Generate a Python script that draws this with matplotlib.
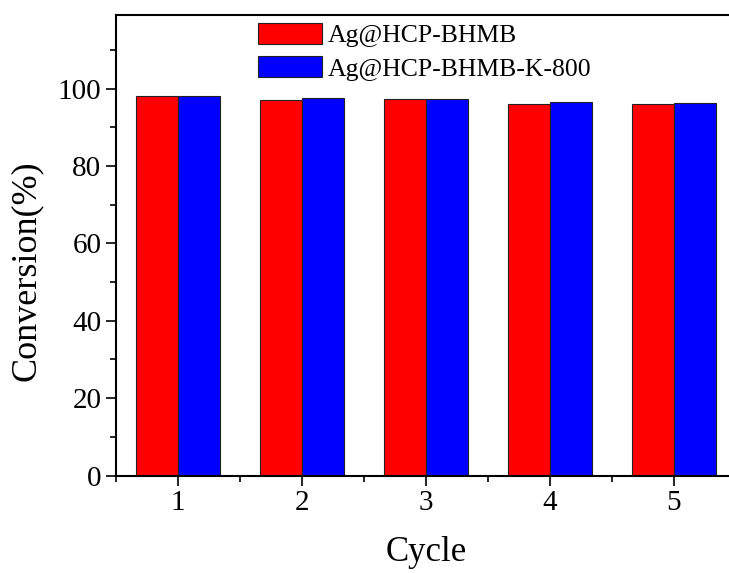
import matplotlib
matplotlib.use("Agg")
import matplotlib.pyplot as plt
import numpy as np
from matplotlib.ticker import MultipleLocator

plt.rcParams['font.family'] = ['Liberation Serif', 'DejaVu Serif']

cycles = [1, 2, 3, 4, 5]
bhmb = [98.1, 97.0, 97.2, 96.1, 96.1]
bhmb_k800 = [98.2, 97.6, 97.4, 96.6, 96.4]
series_names = ['Ag@HCP-BHMB', 'Ag@HCP-BHMB-K-800']

fig = plt.figure(figsize=(7.29, 5.73), dpi=100)
ax = fig.add_axes([0.159, 0.170, 0.8505, 0.8037])

x = np.array(cycles)
w = 0.34
ax.bar(x - w / 2, bhmb, width=w, color='#ff0000', edgecolor='#222222',
       linewidth=0.8, label=series_names[0])
ax.bar(x + w / 2, bhmb_k800, width=w, color='#0000ff', edgecolor='#222222',
       linewidth=0.8, label=series_names[1])

ax.set_xlim(0.5, 5.5)
ax.set_ylim(0, 119)
ax.set_xticks(cycles)
ax.xaxis.set_minor_locator(MultipleLocator(0.5))
ax.yaxis.set_major_locator(MultipleLocator(20))
ax.yaxis.set_minor_locator(MultipleLocator(10))
ax.tick_params(which='major', direction='out', length=7, width=1.2, labelsize=21)
ax.tick_params(which='minor', direction='out', length=4, width=1.2)
for s in ax.spines.values():
    s.set_linewidth(1.5)

ax.set_xlabel('Cycle', fontsize=25, labelpad=14)
ax.set_ylabel('Conversion(%)', fontsize=26)
ax.yaxis.set_label_coords(-0.118, 0.445)

ax.legend(loc='upper left', bbox_to_anchor=(258 / 729, 1 - 23 / 573),
          bbox_transform=fig.transFigure, frameon=False, fontsize=18.5,
          handlelength=2.5, handleheight=0.875, labelspacing=0.35,
          handletextpad=0.2, borderpad=0, borderaxespad=0)

fig.savefig('out.png', dpi=100)
plt.close(fig)
